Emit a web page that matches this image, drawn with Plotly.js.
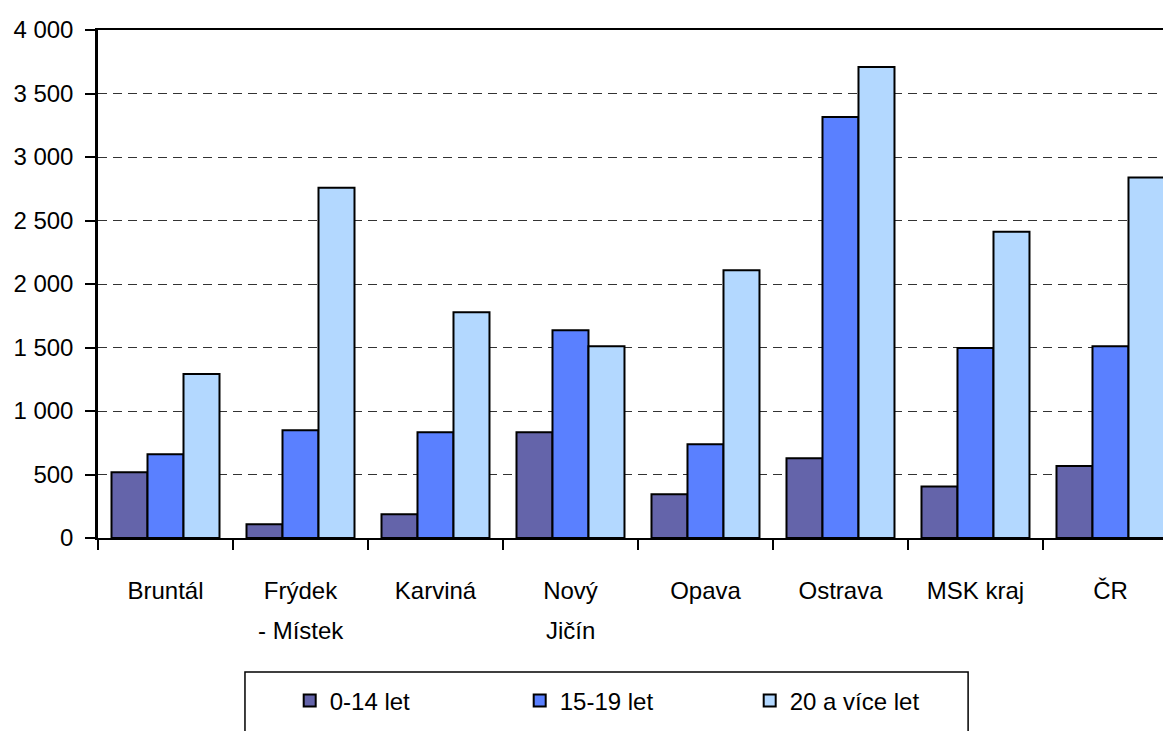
<!DOCTYPE html>
<html>
<head>
<meta charset="utf-8">
<script src="https://cdn.plot.ly/plotly-3.0.1.min.js"></script>
<style>html,body{margin:0;padding:0;background:#fff}#chart{width:1163px;height:731px}</style>
</head>
<body>
<div id="chart"></div>
<script>
const categories = ["Bruntál", "Frýdek - Místek", "Karviná", "Nový Jičín", "Opava", "Ostrava", "MSK kraj", "ČR"];
const labelLine1 = ["Bruntál", "Frýdek", "Karviná", "Nový", "Opava", "Ostrava", "MSK kraj", "ČR"];
const labelLine2 = ["", "- Místek", "", "Jičín", "", "", "", ""];
const seriesNames = ["0-14 let", "15-19 let", "20 a více let"];
const age0_14 = [518, 108, 187, 833, 344, 627, 406, 566];
const age15_19 = [659, 848, 833, 1636, 738, 3314, 1497, 1510];
const age20plus = [1292, 2757, 1778, 1510, 2108, 3709, 2412, 2839];
const yTicks = [0, 500, 1000, 1500, 2000, 2500, 3000, 3500, 4000];

const colors = ["#6464aa", "#5a80ff", "#b3d8ff"];
const values = [age0_14, age15_19, age20plus];
const font = {family: "Liberation Sans, Arial, sans-serif", size: 24, color: "#000"};

const traces = values.map((v, i) => ({
  type: "bar",
  name: seriesNames[i],
  x: categories,
  y: v,
  marker: {color: colors[i], line: {color: "#000", width: 2}},
  hoverinfo: "x+y+name"
}));

const annotations = labelLine2.map((t, i) => ({
  x: categories[i], y: 0, xref: "x", yref: "paper", yanchor: "middle",
  text: t, showarrow: false, yshift: -92, font: font
})).filter(a => a.text);

const layout = {
  width: 1163, height: 731,
  margin: {l: 98, r: 0, t: 30, b: 193, autoexpand: false},
  paper_bgcolor: "#fff", plot_bgcolor: "#fff",
  font: font,
  separators: ", ",
  barmode: "group", bargap: 0.2, bargroupgap: 0,
  xaxis: {
    type: "category",
    range: [-0.5, 7.389],
    tickvals: categories, ticktext: labelLine1,
    tickson: "boundaries",
    ticks: "outside", ticklen: 10, tickwidth: 2, tickcolor: "#000",
    showline: true, linecolor: "#000", linewidth: 2, mirror: true,
    showgrid: false, zeroline: false,
    ticklabelstandoff: 30,
    tickfont: font, fixedrange: true
  },
  yaxis: {
    range: [0, 4000],
    tickvals: yTicks, tickformat: ",d",
    ticks: "outside", ticklen: 10, tickwidth: 2, tickcolor: "#000",
    showline: true, linecolor: "#000", linewidth: 2.5,
    showgrid: true, gridcolor: "#333", gridwidth: 1, griddash: "9px,6px",
    zeroline: false,
    ticklabelstandoff: 7,
    tickfont: font, fixedrange: true
  },
  shapes: [{
    type: "rect", xref: "paper", yref: "paper",
    x0: 0.138, x1: 0.817, y0: -0.264, y1: -0.45,
    line: {color: "#000", width: 1.5}, fillcolor: "rgba(0,0,0,0)", layer: "above"
  }],
  annotations: annotations,
  showlegend: true,
  legend: {
    orientation: "h", x: 0.18, xanchor: "left",
    yref: "container", y: 0.072, yanchor: "top",
    font: font, bgcolor: "rgba(0,0,0,0)", borderwidth: 0,
    entrywidth: 185, entrywidthmode: "pixels", traceorder: "normal"
  }
};

Plotly.newPlot("chart", traces, layout, {displayModeBar: false, responsive: false});
</script>
</body>
</html>
